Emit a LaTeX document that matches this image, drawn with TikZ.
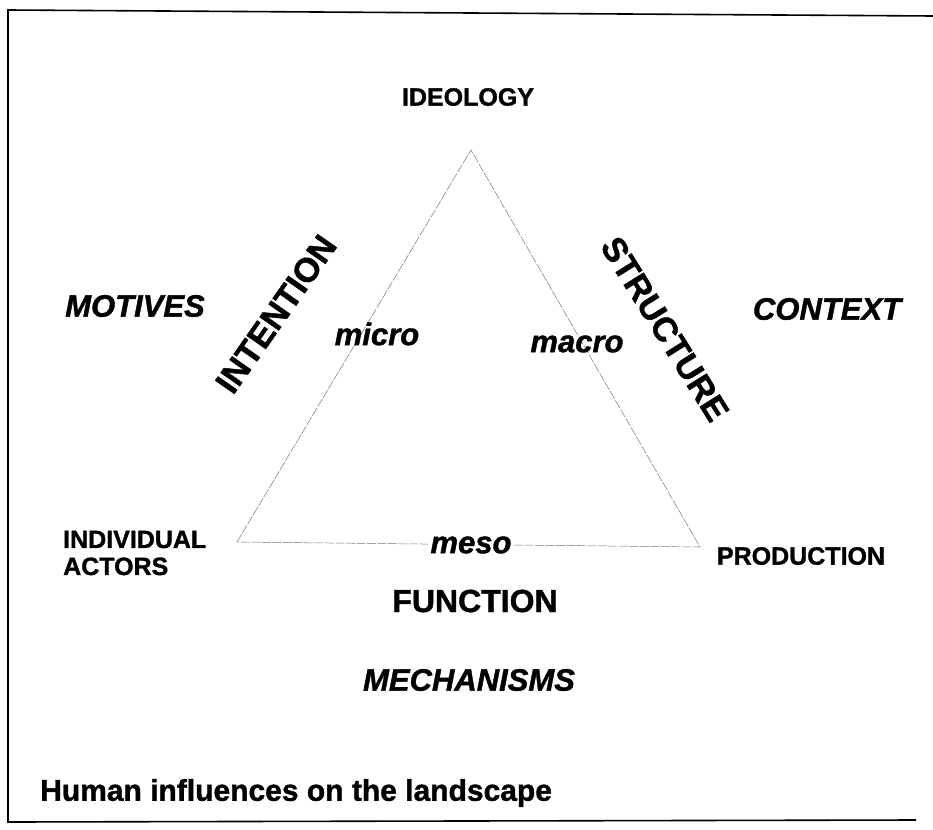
\documentclass[tikz,border=0pt]{standalone}
\usepackage{fontspec}
\setmainfont{Liberation Sans}[BoldFeatures={FakeBold=1.3},BoldItalicFeatures={FakeBold=1.3}]
\begin{document}
\begin{tikzpicture}[x=1pt,y=-1pt,
  lbl/.style={font=\fontsize{25}{27}\selectfont\bfseries, inner sep=0pt, align=left},
  ital/.style={font=\fontsize{31}{33}\selectfont\bfseries\itshape, inner sep=0pt},
  big/.style={font=\fontsize{34}{36}\selectfont\bfseries, inner sep=0pt},
  tri/.style={draw=black!55, line width=0.5pt, dash pattern=on 9pt off 1.5pt}]
\useasboundingbox (0,0) rectangle (933,829);
% frame (open on the right)
\draw[line width=1.6pt] (933,16) -- (8,10) -- (8,822) -- (916,820);
% triangle
\coordinate (A) at (237,542);
\coordinate (B) at (471,150);
\coordinate (C) at (700,547);
\draw[tri] (A) -- (B) -- (C) -- cycle;
% labels
\node[lbl] (ideo) at (468,97) {IDEOLOGY};
\node[lbl, anchor=west] (ind) at (63,553) {INDIVIDUAL\\ACTORS};
\node[lbl] (prod) at (801,556) {PRODUCTION};
\node[ital] (mot) at (135,306) {MOTIVES};
\node[ital] (ctx) at (827,309) {CONTEXT};
\node[ital] (micro) at (377,334) {micro};
\node[ital] (macro) at (577,344) {macro};
\node[ital, fill=white, inner sep=2pt] (meso) at (471,545) {meso};
\node[big, rotate=55] (int) at (276,314) {INTENTION};
\node[big, rotate=-58] (str) at (665,329) {STRUCTURE};
\node[font=\fontsize{32}{34}\selectfont\bfseries, inner sep=0pt] (fun) at (475,601) {FUNCTION};
\node[ital] (mech) at (469,680) {MECHANISMS};
\node[font=\fontsize{30}{32}\selectfont\bfseries, inner sep=0pt, anchor=west] (title) at (40,793) {Human influences on the landscape};
\end{tikzpicture}
\end{document}
